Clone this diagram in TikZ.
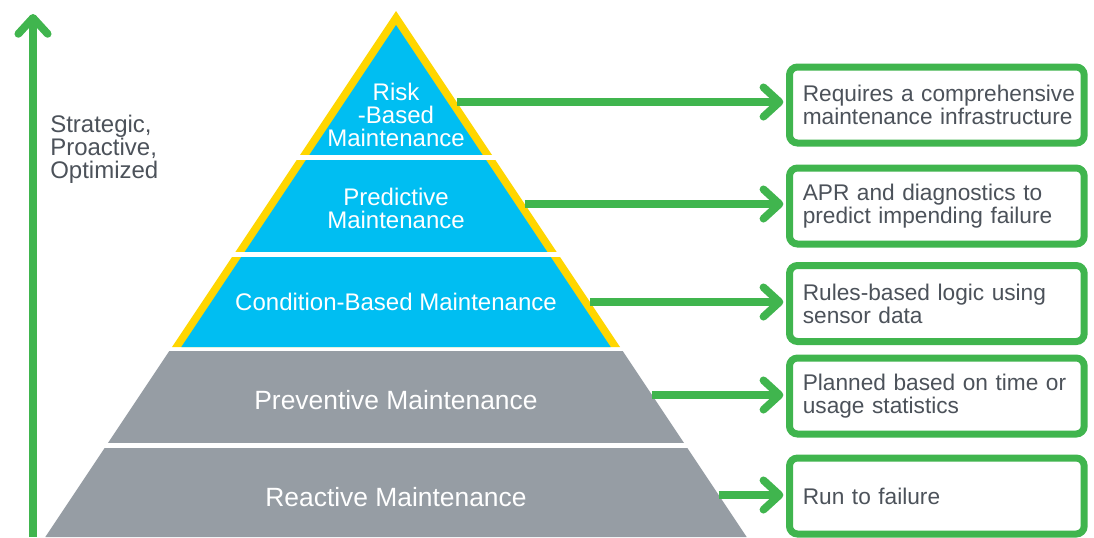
\documentclass[tikz,border=0pt]{standalone}
\usepackage{fontspec}
\setmainfont{Liberation Sans}
\usetikzlibrary{arrows.meta,positioning}

\definecolor{pyrblue}{RGB}{0,190,242}
\definecolor{pyryellow}{RGB}{255,214,0}
\definecolor{pyrgray}{RGB}{150,157,164}
\definecolor{arrgreen}{RGB}{64,181,78}
\definecolor{txtgray}{RGB}{76,82,90}

\begin{document}
\begin{tikzpicture}[x=0.75pt, y=-0.75pt]
  \tikzstyle{tier} = [text=white, align=center, inner sep=0pt, font=\fontsize{18}{17.25}\selectfont]
  \tikzstyle{lowtier} = [tier, font=\fontsize{19.8}{19}\selectfont]
  \tikzstyle{desc} = [rectangle, rounded corners=6pt, draw=arrgreen, line width=5.25pt, fill=white, text=txtgray, anchor=west, align=left, text width=201pt, inner xsep=10pt, inner ysep=0pt, minimum height=57pt, font=\fontsize{17}{17.25}\selectfont]
  \tikzstyle{line} = [draw=arrgreen, line width=5.8pt, -{Straight Barb[length=12pt,width=22pt,line cap=round,line join=round]}, shorten >=2pt]
  \useasboundingbox (0,0) rectangle (1094,537);
  % Pyramid
  \fill [pyryellow] (396,11) -- (172,347) -- (620,347) -- cycle;
  \fill [pyrblue] (396,25) -- (181.3,347) -- (610.7,347) -- cycle;
  \fill [pyrgray] (169.3,351) -- (622.7,351) -- (746.7,537) -- (45.3,537) -- cycle;
  \foreach \y in {155,252,443}
    \fill [white] (40,\y) rectangle (760,\y+5);
  % Place nodes
  \node [tier] (risk) at (396,115) {Risk\\-Based\\Maintenance};
  \node [tier] (pred) at (396,208) {Predictive\\Maintenance};
  \node [tier] (cond) at (396,302) {Condition-Based Maintenance};
  \node [lowtier] (prev) at (396,400) {Preventive Maintenance};
  \node [lowtier] (react) at (396,497) {Reactive Maintenance};
  \node [desc] (d-risk) at (786,105) {\mbox{Requires a comprehensive}\\\mbox{maintenance infrastructure}};
  \node [desc] (d-pred) at (786,206) {APR and diagnostics to\\predict impending failure};
  \node [desc] (d-cond) at (786,303.5) {Rules-based logic using\\sensor data};
  \node [desc] (d-prev) at (786,396) {Planned based on time or\\usage statistics};
  \node [desc] (d-react) at (786,496) {Run to failure};
  \node [text=txtgray, align=left, anchor=west, inner sep=0pt, font=\fontsize{18}{17.25}\selectfont] (goal) at (50,149) {Strategic,\\Proactive,\\Optimized};

  \coordinate (risk-e) at (456.7,102);
  \coordinate (pred-e) at (524.7,204);
  \coordinate (cond-e) at (590,302);
  \coordinate (prev-e) at (652,395);
  \coordinate (react-e) at (718.7,495);
  \coordinate (axis-bot) at (33,537);
  \coordinate (axis-top) at (33,14);

  \path [line] (risk-e) -- (risk-e -| d-risk.west);
  \path [line] (pred-e) -- (pred-e -| d-pred.west);
  \path [line] (cond-e) -- (cond-e -| d-cond.west);
  \path [line] (prev-e) -- (prev-e -| d-prev.west);
  \path [line] (react-e) -- (react-e -| d-react.west);
  \path [line, shorten >=0pt] (axis-bot) -- (axis-top);
\end{tikzpicture}
\end{document}
